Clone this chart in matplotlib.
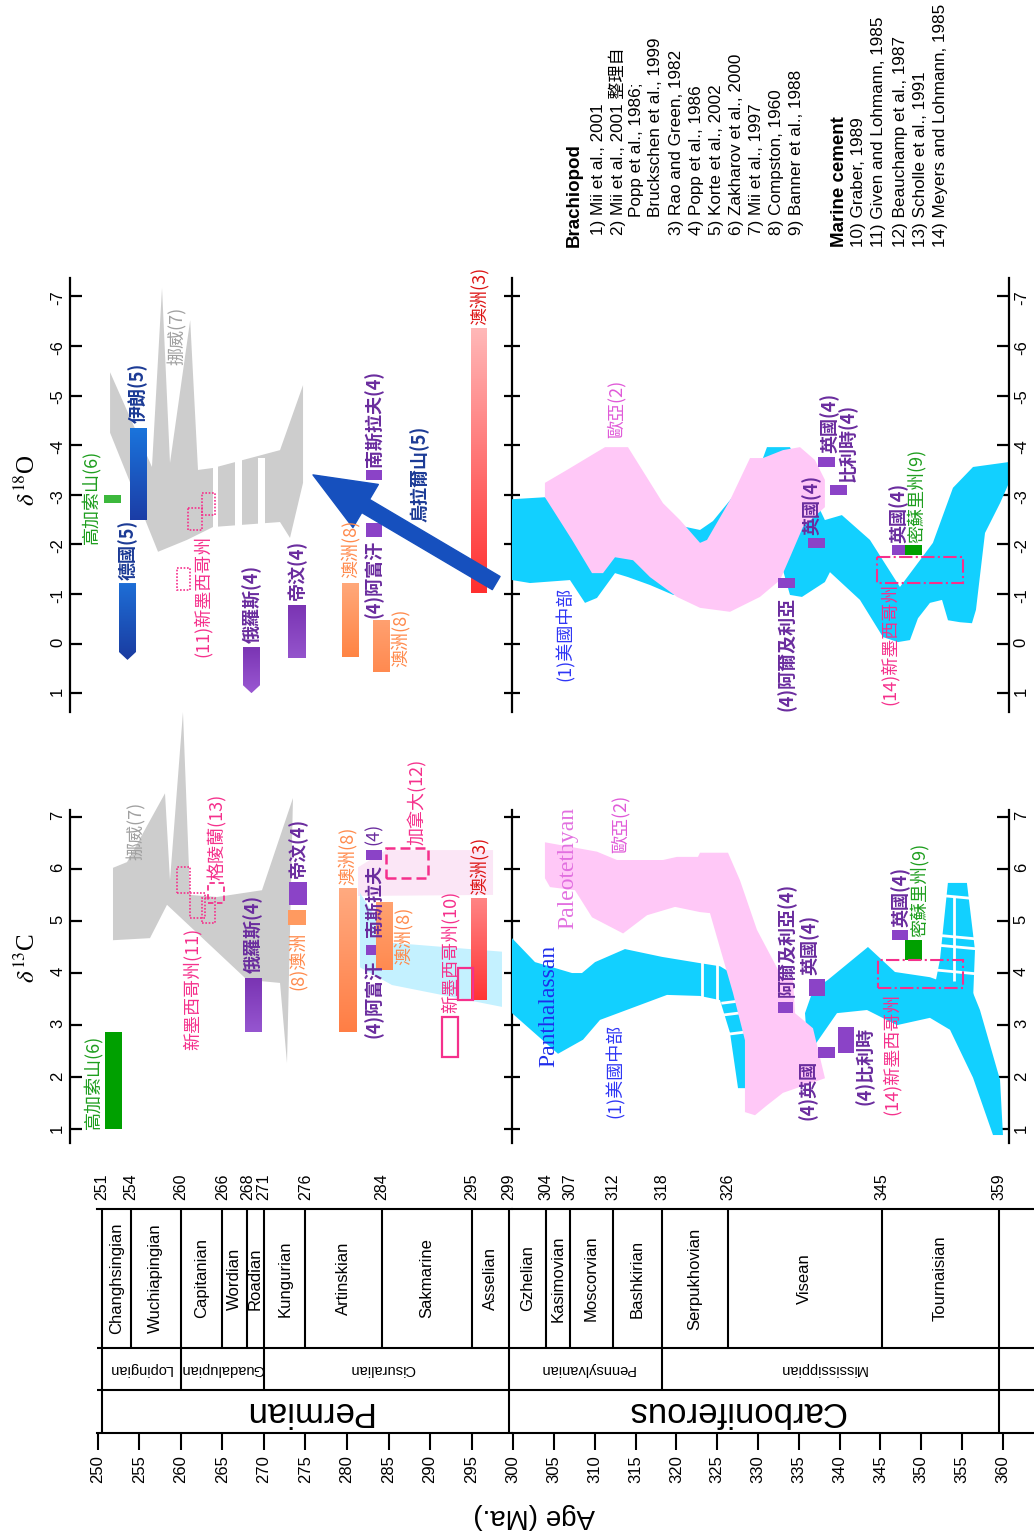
import numpy as np
import matplotlib
matplotlib.use('Agg')
import matplotlib.pyplot as plt
from matplotlib.patches import Polygon, Rectangle, FancyArrowPatch
from matplotlib.colors import LinearSegmentedColormap

plt.rcParams['font.family'] = ['Liberation Sans', 'Noto Sans CJK TC', 'DejaVu Sans']
plt.rcParams['mathtext.fontset'] = 'stix'
plt.rcParams['axes.unicode_minus'] = False
CJK = ['Noto Sans CJK TC', 'DejaVu Sans']

# ---------------- geological time scale ----------------
bound_age = [250.5, 254, 260, 265, 268, 270, 275, 284.2, 295, 299.5,
             304, 307, 312.2, 318.2, 326.3, 345.2, 359.5]
bound_lab = ['251', '254', '260', '266', '268', '271', '276', '284', '295', '299',
             '304', '307', '312', '318', '326', '345', '359']
stages = ['Changhsingian', 'Wuchiapingian', 'Capitanian', 'Wordian', 'Roadian',
          'Kungurian', 'Artinskian', 'Sakmarine', 'Asselian', 'Gzhelian',
          'Kasimovian', 'Moscorvian', 'Bashkirian', 'Serpukhovian', 'Visean',
          'Tournaisian']
series_bounds = [250.5, 260, 270, 299.5, 318.2, 359.5]
series = ['Lopingian', 'Guadalupian', 'Cisuralian', 'Pennsylvanian', 'Mississippian']
series_pos = [255.1, 265.0, 284.3, 309.0, 337.9]
system_bounds = [250.5, 299.5, 359.5]
systems = ['Permian', 'Carboniferous']
system_pos = [275.2, 327.3]
age_ticks_P = list(range(250, 300, 5))
age_ticks_C = list(range(300, 361, 5))
d13_ticks = [1, 2, 3, 4, 5, 6, 7]
d18_ticks = [1, 0, -1, -2, -3, -4, -5, -6, -7]

# ---------------- delta13C, Permian ----------------
c13_norway_age = [251.84, 253.53, 258.10, 258.70, 260.26, 261.11, 264.36, 269.77, 273.50,
                  272.78, 271.94, 267.97, 258.34, 256.29, 251.84]
c13_norway_val = [6.02, 6.13, 7.45, 5.78, 9.01, 5.50, 5.46, 5.59, 7.36,
                  2.27, 3.81, 3.87, 5.31, 4.67, 4.63]
c13_nm10_band_age = [281.56, 285.41, 298.65, 298.65, 285.41, 281.56]
c13_nm10_band_val = [5.54, 4.58, 4.41, 3.35, 3.77, 4.11]
c13_canada_band_age = [281.33, 284.69, 297.57, 297.57, 281.33]
c13_canada_band_val = [6.03, 6.36, 6.36, 5.50, 5.48]
c13_caucasus = ([250.88, 252.92], [1.0, 2.87])
c13_russia = ([267.73, 269.77], [2.87, 3.90])
c13_aus8_sq = ([272.90, 275.07], [4.92, 5.21])
c13_timor = ([273.02, 275.19], [5.31, 5.75])
c13_aus8_tall = ([279.04, 281.20], [2.87, 5.63])
c13_afghan = ([282.29, 284.22], [4.35, 4.54])
c13_yugo = ([282.29, 284.22], [6.17, 6.36])
c13_aus8_b = ([283.49, 285.53], [4.06, 5.36])
c13_canada_box = ([284.69, 289.75], [5.82, 6.40])
c13_aus3 = ([294.92, 296.85], [3.48, 5.44])
c13_nm10_boxes = [([293.35, 295.16], [3.48, 4.10]), ([291.43, 293.35], [2.39, 3.16])]
c13_nm11_boxes = [([259.54, 261.11], [5.54, 6.04]), ([261.11, 262.92], [5.05, 5.54]),
                  ([262.56, 264.12], [4.96, 5.44])]
c13_greenland = ([263.30, 265.22], [5.34, 5.73])

# ---------------- delta13C, Carboniferous ----------------
c13_cyanA_age = [299.84, 302.66, 307.20, 308.42, 310.02, 313.69, 318.23, 322.89, 325.34, 330.24,
                 330.24, 327.55, 326.57, 325.34, 322.89, 318.84, 310.63, 308.55, 305.48, 299.84]
c13_cyanA_val = [4.67, 4.21, 4.00, 4.00, 4.21, 4.46, 4.31, 4.19, 4.13, 3.67,
                 1.79, 1.79, 2.85, 3.48, 3.56, 3.58, 3.10, 2.72, 2.45, 3.23]
c13_cyanB_age = [335.76, 336.74, 338.58, 343.48, 346.79, 351.08, 356.36, 357.21, 359.67, 360.03,
                 358.81, 356.36, 353.54, 351.08, 347.04, 343.36, 339.68, 336.98, 336.0]
c13_cyanB_val = [3.23, 3.67, 3.87, 4.50, 4.02, 3.92, 3.62, 3.29, 1.95, 0.89,
                 0.89, 1.99, 2.91, 3.14, 3.00, 3.29, 3.23, 2.62, 2.72]
c13_cyanD_age = [351.32, 352.30, 353.28, 355.61, 356.60, 356.36]
c13_cyanD_val = [3.48, 4.25, 5.73, 5.73, 4.44, 3.48]
c13_pink_age = [303.88, 307.81, 310.26, 312.71, 318.35, 320.06, 322.64, 322.89, 326.32, 327.79,
                329.87, 332.94, 334.29, 334.53, 336.74, 338.21, 333.06, 331.10, 329.63, 328.40,
                328.40, 326.93, 324.11, 322.89, 319.83, 316.40, 313.46, 309.65, 307.56, 304.50, 303.88]
c13_pink_val = [6.51, 6.40, 6.33, 6.17, 6.17, 6.23, 6.23, 6.31, 6.31, 5.78,
                4.83, 3.92, 3.90, 3.23, 2.94, 1.98, 1.70, 1.46, 1.27, 1.33,
                2.71, 3.62, 5.15, 5.17, 5.27, 5.11, 4.76, 5.07, 5.59, 5.65, 5.82]
c13_gap_v_age = [323.14, 324.98]
c13_gap_t_val = [3.42, 3.19, 2.81]
c13_dash_h_val = [5.46, 4.69, 4.50, 4.02]
c13_dash_v_age = [354.0]
c13_algeria = ([332.43, 334.27], [3.23, 3.44])
c13_uk_a = ([336.25, 338.21], [3.56, 3.89])
c13_uk_b = ([337.35, 339.43], [2.37, 2.58])
c13_belgium = ([339.80, 341.76], [2.46, 2.96])
c13_uk_c = ([346.42, 348.38], [4.63, 4.83])
c13_missouri = ([348.00, 350.09], [4.25, 4.63])
c13_nm14_box = ([344.70, 355.13], [3.71, 4.25])

# ---------------- delta18O, Permian ----------------
o18_norway_age = [251.49, 256.53, 257.74, 258.70, 261.13, 262.07, 263.88, 271.94, 274.71,
                  274.71, 273.14, 271.94, 263.88, 260.75, 257.26, 251.49]
o18_norway_val = [-5.47, -3.56, -7.17, -3.64, -6.52, -3.50, -3.54, -3.90, -5.21,
                  -3.24, -2.13, -2.45, -2.35, -2.09, -1.85, -4.25]
o18_norway_gaps = [(263.88, 264.48), (266.52, 267.36), (269.29, 270.13)]
o18_caucasus = ([250.76, 252.81], [-2.99, -2.83])
o18_germany = ([252.56, 254.61], [-1.22, 0.17, 0.33])
o18_iran = ([253.89, 255.93], [-4.34, -2.49])
o18_nm11_boxes = [([260.87, 262.56], [-2.73, -2.29]), ([262.56, 264.12], [-3.03, -2.59]),
                  ([259.54, 261.11], [-1.52, -1.08])]
o18_russia = ([267.48, 269.53], [0.07, 0.84, 1.0])
o18_timor = ([272.90, 275.07], [-0.78, 0.29])
o18_aus8_a = ([279.40, 281.44], [-1.22, 0.27])
o18_afghan = ([282.29, 284.22], [-2.43, -2.15])
o18_aus8_b = ([283.13, 285.17], [-0.47, 0.57])
o18_yugo = ([282.29, 284.22], [-3.50, -3.30])
o18_ural_arrow = ([297.95, 275.91], [-1.22, -3.40])
o18_aus3 = ([294.92, 296.85], [-6.36, -1.02])

# ---------------- delta18O, Carboniferous ----------------
o18_cyan_age = [299.84, 303.88, 322.89, 324.48, 326.57, 330.61, 331.10, 333.92, 338.20, 340.28,
                343.72, 347.40, 351.44, 353.90, 356.36, 360.77,
                360.77, 359.67, 357.83, 356.72, 356.23, 354.76, 353.29, 352.56, 351.08, 349.61,
                348.63, 347.16, 345.32, 342.50, 338.82, 338.20, 335.39, 333.92, 333.06, 319.61,
                316.76, 314.06, 312.47, 310.26, 308.79, 306.95, 302.05, 299.84]
o18_cyan_val = [-2.91, -2.95, -2.29, -2.47, -2.89, -3.74, -3.96, -3.96, -2.49, -2.59,
                -2.09, -1.14, -2.03, -3.14, -3.56, -3.66,
                -3.24, -2.83, -2.23, -0.68, -0.41, -0.43, -0.47, -0.88, -0.82, -0.51,
                -0.07, -0.03, -0.13, -0.88, -1.44, -1.24, -0.94, -0.98, -1.48, -0.98,
                -1.18, -1.34, -1.42, -0.92, -0.82, -1.28, -1.22, -1.28]
o18_pink_age = [303.88, 306.58, 310.02, 311.25, 314.06, 318.35, 320.44, 322.89, 323.75, 326.57,
                329.02, 330.61, 333.06, 335.15, 336.98, 338.20, 338.20, 335.51, 333.92, 332.70,
                330.24, 326.57, 322.89, 320.07, 316.76, 314.68, 312.47, 311.00, 309.65, 307.20, 303.88]
o18_pink_val = [-3.24, -3.50, -3.84, -3.96, -3.96, -2.83, -2.49, -2.03, -2.09, -2.89,
                -3.74, -3.74, -3.90, -3.96, -3.70, -3.30, -2.75, -2.35, -1.74, -1.28,
                -0.94, -0.64, -0.72, -0.94, -1.34, -1.68, -1.74, -1.42, -1.42, -2.09, -2.95]
o18_algeria = ([332.43, 334.51], [-1.32, -1.12])
o18_uk_a = ([336.10, 338.20], [-2.13, -1.93])
o18_uk_b = ([337.35, 339.43], [-3.76, -3.56])
o18_belgium = ([338.82, 340.90], [-3.20, -2.99])
o18_uk_c = ([346.42, 348.02], [-1.99, -1.79])
o18_missouri = ([348.02, 350.10], [-1.99, -1.79])
o18_nm14_box = ([344.57, 355.13], [-1.74, -1.22])

# ---------------- reference list ----------------
legend_lines = [
    ('Brachiopod', True, 0), ('1) Mii et al., 2001', False, 1),
    ('2) Mii et al., 2001 整理自', False, 1), ('Popp et al., 1986;', False, 2),
    ('Bruckschen et al., 1999', False, 2), ('3) Rao and Green, 1982', False, 1),
    ('4) Popp et al., 1986', False, 1), ('5) Korte et al., 2002', False, 1),
    ('6) Zakharov et al., 2000', False, 1), ('7) Mii et al., 1997', False, 1),
    ('8) Compston, 1960', False, 1), ('9) Banner et al., 1988', False, 1),
    ('Marine cement', True, 0), ('10) Graber, 1989', False, 0),
    ('11) Given and Lohmann, 1985', False, 0), ('12) Beauchamp et al., 1987', False, 0),
    ('13) Scholle et al., 1991', False, 0), ('14) Meyers and Lohmann, 1985', False, 0)]
legend_x = [574, 598, 617, 637, 656, 677, 697, 717, 737, 757, 777, 797,
            839, 859, 879, 901, 921, 941]

# colours
GRAY = '#CDCDCD'; CYAN = '#12D0FF'; PINK = '#FFC8F7'; PURP = '#8B43C7'
GREEN = '#00A000'; MAG = '#F5308C'; PTXT = '#6A2C9E'; BTXT = '#1B3A95'
OTXT = '#FF8A4C'; RTXT = '#DD1515'; GTXT = '#1E9E1E'
CJK_SIZE = 13

W, H = 1034, 1535
fig = plt.figure(figsize=(W / 100, H / 100), dpi=100)
fig.patch.set_facecolor('white')


def add_ax(x0, y0, x1, y1):
    ax = fig.add_axes([x0 / W, 1 - y1 / H, (x1 - x0) / W, (y1 - y0) / H])
    ax.patch.set_visible(False)
    return ax


axO_P = add_ax(70, 278, 512, 712)
axO_C = add_ax(512, 278, 1009, 712)
axC_P = add_ax(70, 810, 512, 1143)
axC_C = add_ax(512, 810, 1009, 1143)
axT_P = add_ax(97, 1209, 512, 1433)
axT_C = add_ax(512, 1209, 1034, 1433)


def poly(ax, xs, ys, color, z, clip=True):
    p = Polygon(np.column_stack([xs, ys]), closed=True, facecolor=color,
                edgecolor='none', zorder=z)
    ax.add_patch(p)
    p.set_clip_on(clip)
    return p


def box(ax, spec, color, z=3):
    xs, ys = spec
    ax.add_patch(Rectangle((xs[0], ys[0]), xs[1] - xs[0], ys[1] - ys[0],
                           facecolor=color, edgecolor='none', zorder=z))


def outline(ax, spec, color, ls, lw, z=4):
    xs, ys = spec
    ax.add_patch(Rectangle((xs[0], ys[0]), xs[1] - xs[0], ys[1] - ys[0],
                           facecolor='none', edgecolor=color, linestyle=ls,
                           linewidth=lw, zorder=z))


def grad(ax, spec, ca, cb, z=3):
    xs, ys = spec
    x0, x1 = xs
    if len(ys) == 3:
        verts = [(x0, ys[0]), (x1, ys[0]), (x1, ys[1]), ((x0 + x1) / 2, ys[2]), (x0, ys[1])]
    else:
        verts = [(x0, ys[0]), (x1, ys[0]), (x1, ys[1]), (x0, ys[1])]
    clip = Polygon(verts, closed=True, facecolor='none', edgecolor='none')
    ax.add_patch(clip)
    cmap = LinearSegmentedColormap.from_list('g', [ca, cb])
    im = ax.imshow(np.linspace(0, 1, 128).reshape(-1, 1), cmap=cmap, aspect='auto',
                   origin='lower', extent=[x0, x1, ys[0], ys[-1]], zorder=z,
                   interpolation='bilinear')
    im.set_clip_path(clip)


def lab(ax, s, x, y, color, va='bottom', size=CJK_SIZE, weight='normal', family=None):
    ax.text(x, y, s, rotation=90, ha='center', va=va, color=color, fontsize=size,
            fontweight=weight, family=family or CJK, zorder=8, clip_on=False)


def wline(ax, xs, ys, lw=2.0, z=2.3):
    ax.plot(xs, ys, color='white', lw=lw, zorder=z, solid_capstyle='butt')


# ================= delta13C Permian =================
ax = axC_P
poly(ax, c13_canada_band_age, c13_canada_band_val, '#FBE6F6', 1)
poly(ax, c13_nm10_band_age, c13_nm10_band_val, '#C4F1FF', 1.1)
poly(ax, c13_norway_age, c13_norway_val, GRAY, 1.5, clip=False)
box(ax, c13_caucasus, GREEN)
grad(ax, c13_russia, '#9656D0', '#7A34B3')
box(ax, c13_aus8_sq, '#FF9A60')
box(ax, c13_timor, PURP)
grad(ax, c13_aus8_tall, '#FF7E45', '#FFAA80')
box(ax, c13_afghan, PURP)
box(ax, c13_yugo, PURP)
grad(ax, c13_aus8_b, '#FF8A50', '#FFA270')
grad(ax, c13_aus3, '#FF3535', '#FF8585')
outline(ax, c13_canada_box, MAG, (0, (4, 2)), 1.8)
for b in c13_nm10_boxes:
    outline(ax, b, MAG, '-', 1.6, z=4.5)
for b in c13_nm11_boxes:
    outline(ax, b, MAG, (0, (1, 1)), 1.2)
outline(ax, c13_greenland, MAG, (0, (3, 2)), 1.3)
lab(ax, '高加索山(6)', 249.43, 1.0, GTXT)
lab(ax, '挪威(7)', 254.6, 6.17, '#A0A0A0')
lab(ax, '新墨西哥州(11)', 261.35, 2.52, MAG)
lab(ax, '格陵蘭(13)', 264.36, 5.79, MAG)
lab(ax, '俄羅斯(4)', 268.69, 4.00, PTXT, weight='bold')
lab(ax, '(8)澳洲', 273.98, 4.79, OTXT, va='top')
lab(ax, '帝汶(4)', 274.1, 5.83, PTXT, weight='bold')
lab(ax, '澳洲(8)', 280.0, 5.69, OTXT)
lab(ax, '(4)阿富汗', 283.25, 4.25, PTXT, va='top', weight='bold')
lab(ax, '南斯拉夫', 283.25, 4.69, PTXT, weight='bold')
lab(ax, '(4)', 283.25, 6.46, PTXT)
lab(ax, '澳洲(8)', 286.78, 4.71, OTXT, va='center')
lab(ax, '加拿大(12)', 288.54, 6.46, MAG)
lab(ax, '新墨西哥州(10)', 292.39, 3.23, MAG)
lab(ax, '澳洲(3)', 295.89, 5.50, RTXT)

# ================= delta13C Carboniferous =================
ax = axC_C
poly(ax, c13_cyanA_age, c13_cyanA_val, CYAN, 2)
poly(ax, c13_cyanB_age, c13_cyanB_val, CYAN, 2)
poly(ax, c13_cyanD_age, c13_cyanD_val, CYAN, 2)
for a in c13_gap_v_age:
    wline(ax, [a, a], [3.40, 4.30])
for v in c13_gap_t_val:
    wline(ax, [325.5, 328.6], [v, v + 0.06])
for v in c13_dash_h_val:
    wline(ax, [351.0, 357.8], [v + 0.05, v - 0.05])
for a in c13_dash_v_age:
    wline(ax, [a, a], [3.85, 5.46])
poly(ax, c13_pink_age, c13_pink_val, PINK, 2.5)
for b in (c13_algeria, c13_uk_a, c13_uk_b, c13_belgium, c13_uk_c):
    box(ax, b, PURP)
box(ax, c13_missouri, GREEN)
outline(ax, c13_nm14_box, MAG, '-.', 1.5)
lab(ax, 'Panthalassan', 304.33, 3.37, '#1F2DEB', va='center', size=17, family=['Liberation Serif'])
lab(ax, 'Paleotethyan', 306.7, 6.02, '#E270E0', va='center', size=17, family=['Liberation Serif'])
lab(ax, '歐亞(2)', 313.08, 6.31, '#E05AD8')
lab(ax, '(1)美國中部', 312.47, 1.21, '#2E35F5')
lab(ax, '阿爾及利亞(4)', 333.55, 3.54, PTXT, weight='bold')
lab(ax, '英國(4)', 336.37, 3.96, PTXT, weight='bold')
lab(ax, '(4)英國', 336.13, 2.33, PTXT, va='top', weight='bold')
lab(ax, '(4)比利時', 343.1, 2.96, PTXT, va='top', weight='bold')
lab(ax, '(14)新墨西哥州', 346.42, 3.62, MAG, va='top')
lab(ax, '英國(4)', 347.53, 4.88, PTXT, weight='bold')
lab(ax, '密蘇里州(9)', 349.73, 4.69, GTXT)

# ================= delta18O Permian =================
ax = axO_P
poly(ax, o18_norway_age, o18_norway_val, GRAY, 1.5)
for g0, g1 in o18_norway_gaps:
    ax.add_patch(Rectangle((g0, -3.75), g1 - g0, 1.55, facecolor='white',
                           edgecolor='none', zorder=1.6))
box(ax, o18_caucasus, '#3CB83C')
grad(ax, o18_germany, '#1E6ED6', '#1A3BA0')
grad(ax, o18_iran, '#1A74DC', '#1C3DA6')
for b in o18_nm11_boxes:
    outline(ax, b, MAG, (0, (1, 1)), 1.2)
grad(ax, o18_russia, '#7A34B3', '#9A58D2')
grad(ax, o18_timor, '#7A34B3', '#9454CC')
grad(ax, o18_aus8_a, '#FFA87A', '#FF8444')
box(ax, o18_afghan, PURP)
grad(ax, o18_aus8_b, '#FFA070', '#FF8A50')
box(ax, o18_yugo, PURP)
grad(ax, o18_aus3, '#FFB8B8', '#FF3030')
arr = FancyArrowPatch(posA=(o18_ural_arrow[0][0], o18_ural_arrow[1][0]),
                      posB=(o18_ural_arrow[0][1], o18_ural_arrow[1][1]),
                      arrowstyle='simple,head_length=4.4,head_width=3.6,tail_width=1.1',
                      mutation_scale=10, color='#1650BE', shrinkA=0, shrinkB=0, zorder=5)
ax.add_patch(arr)
lab(ax, '高加索山(6)', 249.2, -2.95, GTXT, va='center')
lab(ax, '德國(5)', 253.65, -1.28, BTXT, weight='bold')
lab(ax, '伊朗(5)', 254.85, -4.45, BTXT, weight='bold')
lab(ax, '挪威(7)', 259.57, -5.61, '#A0A0A0')
lab(ax, '(11)新墨西哥州', 262.56, -2.19, MAG, va='top')
lab(ax, '俄羅斯(4)', 268.57, -0.01, PTXT, weight='bold')
lab(ax, '帝汶(4)', 273.98, -0.88, PTXT, weight='bold')
lab(ax, '澳洲(8)', 280.36, -1.32, OTXT)
lab(ax, '(4)阿富汗', 283.25, -2.09, PTXT, va='top', weight='bold')
lab(ax, '南斯拉夫(4)', 283.25, -3.56, PTXT, weight='bold')
lab(ax, '澳洲(8)', 286.38, -0.11, OTXT, va='center')
lab(ax, '烏拉爾山(5)', 288.78, -3.42, BTXT, va='center', weight='bold')
lab(ax, '澳洲(3)', 295.89, -6.42, RTXT)

# ================= delta18O Carboniferous =================
ax = axO_C
poly(ax, o18_cyan_age, o18_cyan_val, CYAN, 2)
poly(ax, o18_pink_age, o18_pink_val, PINK, 2.5)
for b in (o18_algeria, o18_uk_a, o18_uk_b, o18_belgium, o18_uk_c):
    box(ax, b, PURP)
box(ax, o18_missouri, GREEN)
outline(ax, o18_nm14_box, MAG, '-.', 1.5)
lab(ax, '歐亞(2)', 312.59, -4.14, '#E05AD8')
lab(ax, '(1)美國中部', 306.34, -1.14, '#2E35F5', va='top')
lab(ax, '(4)阿爾及利亞', 333.55, -0.94, PTXT, va='top', weight='bold')
lab(ax, '英國(4)', 336.6, -2.19, PTXT, weight='bold')
lab(ax, '英國(4)', 338.8, -3.84, PTXT, weight='bold')
lab(ax, '比利時(4)', 341.0, -3.26, PTXT, weight='bold')
lab(ax, '英國(4)', 347.28, -2.03, PTXT, weight='bold')
lab(ax, '密蘇里州(9)', 349.48, -2.03, GTXT)
lab(ax, '(14)新墨西哥州', 346.17, -1.22, MAG, va='top')

# ================= axes styling for delta panels =================
LW = 1.6
TL = 8.6


def style_delta(axP, axC, ticks, ylim):
    labels = [str(t) for t in ticks]
    for a, xl in ((axP, (246.667, 299.856)), (axC, (299.841, 360.770))):
        a.set_xlim(*xl)
        a.set_ylim(*ylim)
        for s in ('top', 'bottom', 'left', 'right'):
            a.spines[s].set_visible(False)
        a.set_xticks([])
        a.set_yticks(ticks)
    axP.spines['right'].set_visible(True)
    axP.spines['right'].set_linewidth(LW)
    axP.tick_params(axis='y', left=False, right=True, labelleft=False, labelright=False,
                    direction='inout', length=TL + 3, width=LW)
    sec = axP.secondary_yaxis('left')
    sec.set_ticks(ticks, labels=labels)
    sec.spines['left'].set_linewidth(LW)
    sec.tick_params(axis='y', direction='in', length=TL, width=LW, labelsize=12,
                    labelrotation=90, pad=3.5)
    axC.spines['right'].set_visible(True)
    axC.spines['right'].set_linewidth(LW)
    axC.set_yticks(ticks, labels=labels)
    axC.tick_params(axis='y', left=False, right=True, labelleft=False, labelright=True,
                    direction='in', length=TL, width=LW, labelsize=12, labelrotation=90, pad=3.5)


style_delta(axO_P, axO_C, d18_ticks, (1.38, -7.37))
style_delta(axC_P, axC_C, d13_ticks, (0.737, 7.13))

# ================= time-scale column =================
Y_SER, Y_STG = 0.192, 0.3795
for ax, xl, ticks in ((axT_P, (249.916, 299.856), age_ticks_P),
                      (axT_C, (299.841, 363.835), age_ticks_C)):
    ax.set_xlim(*xl)
    ax.set_ylim(0, 1)
    ax.spines['left'].set_visible(False)
    ax.spines['right'].set_visible(False)
    ax.spines['top'].set_linewidth(1.5)
    ax.spines['bottom'].set_linewidth(1.5)
    ax.set_yticks([])
    ax.set_xticks(ticks)
    ax.tick_params(axis='x', direction='out', length=12, width=1.5, labelsize=12,
                   labelrotation=90, pad=4)
    ax.axhline(Y_SER, color='black', lw=1.5)
    ax.axhline(Y_STG, color='black', lw=1.5)


def tax(age):
    return axT_P if age < 299.8 else axT_C


for a, lb in zip(bound_age, bound_lab):
    ax = tax(a)
    y0 = Y_STG
    if a in series_bounds:
        y0 = Y_SER
    if a in system_bounds:
        y0 = 0
    ax.plot([a, a], [y0, 1], color='black', lw=1.5, solid_capstyle='butt', clip_on=False)
    ax.text(a, 1.04, lb, rotation=90, ha='center', va='bottom', fontsize=11.5,
            transform=ax.get_xaxis_transform())

for i, s in enumerate(stages):
    m = (bound_age[i] + bound_age[i + 1]) / 2
    ax = tax(m)
    ax.text(m, (Y_STG + 1) / 2, s, rotation=90, ha='center', va='center', fontsize=12)

for s, p in zip(series, series_pos):
    tax(p).text(p, (Y_SER + Y_STG) / 2, s, rotation=180, ha='center', va='center', fontsize=10.5)

for s, p in zip(systems, system_pos):
    tax(p).text(p, Y_SER / 2, s, rotation=180, ha='center', va='center', fontsize=25)

fig.text(534 / W, 1 - 1516 / H, 'Age (Ma.)', rotation=180, ha='center', va='center', fontsize=20)

# axis titles
fig.text(27 / W, 1 - 480 / H, r'$\delta^{18}$O', rotation=90, ha='center', va='center',
         fontsize=18, family=['Liberation Serif'])
fig.text(27 / W, 1 - 958 / H, r'$\delta^{13}$C', rotation=90, ha='center', va='center',
         fontsize=18, family=['Liberation Serif'])

# reference list
for (txt, bold, ind), x in zip(legend_lines, legend_x):
    ybot = {0: 247, 1: 235, 2: 217}[ind]
    fig.text(x / W, 1 - ybot / H, txt, rotation=90, ha='center', va='bottom',
             fontsize=13.5 if bold else 12.3, fontweight='bold' if bold else 'normal',
             family=['Liberation Sans', 'Noto Sans CJK TC'])

fig.savefig('out.png', dpi=100, facecolor='white')
